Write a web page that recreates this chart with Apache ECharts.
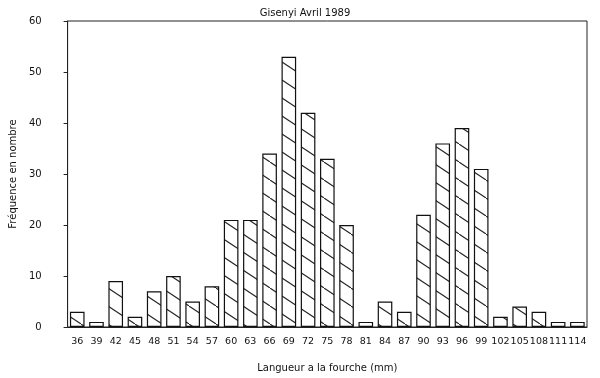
<!DOCTYPE html>
<html><head><meta charset="utf-8">
<script src="https://cdn.jsdelivr.net/npm/echarts@6/dist/echarts.min.js"></script>
<style>html,body{margin:0;padding:0;background:#fff}#c{width:600px;height:378px}</style>
</head><body><div id="c"></div>
<script>
const categories = ['36','39','42','45','48','51','54','57','60','63','66','69','72','75','78','81','84','87','90','93','96','99','102','105','108','111','114'];
const frequencies = [3,1,9,2,7,10,5,8,21,21,34,53,42,33,20,1,5,3,22,36,39,31,2,4,3,1,1];
const yTicks = [0,10,20,30,40,50,60];

function hatch(){
  const W=27,H=18;
  const c=document.createElement('canvas');c.width=W;c.height=H;
  const g=c.getContext('2d');
  g.fillStyle='#fff';g.fillRect(0,0,W,H);
  g.strokeStyle='#222';g.lineWidth=1.1;
  for(const o of [-1,0,1]){g.beginPath();g.moveTo(o*W,o*H);g.lineTo((o+1)*W,(o+1)*H);g.stroke();}
  return c;
}
const chart = echarts.init(document.getElementById('c'), null, {renderer:'canvas'});
const font = 'DejaVu Sans';
chart.setOption({
  backgroundColor:'#fff',
  animation:false,
  title:{text:'Gisenyi Avril 1989',left:300,top:3,textAlign:'center',textStyle:{fontFamily:font,fontSize:10,fontWeight:'normal',color:'#111'}},
  grid:{left:64,right:13,top:21,bottom:48.5,show:true,borderColor:'#222',borderWidth:1},
  xAxis:{type:'category',data:categories,
    name:'Langueur a la fourche (mm)',nameLocation:'middle',nameGap:36,
    nameTextStyle:{fontFamily:font,fontSize:10,color:'#111'},
    axisLine:{lineStyle:{color:'#222'}},
    axisTick:{alignWithLabel:true,length:4,lineStyle:{color:'#222'}},
    axisLabel:{interval:0,fontFamily:font,fontSize:9.5,color:'#111',margin:10}},
  yAxis:{type:'value',min:0,max:60,interval:10,
    name:'Fréquence en nombre',nameLocation:'middle',nameGap:46,
    nameTextStyle:{fontFamily:font,fontSize:10,color:'#111'},
    axisLine:{show:true,lineStyle:{color:'#222'}},
    axisTick:{show:true,length:4,lineStyle:{color:'#222'}},
    splitLine:{show:false},
    axisLabel:{fontFamily:font,fontSize:10,color:'#111',margin:26,align:'right',
      formatter:v=>yTicks.includes(v)?String(v):''}},
  series:[{type:'bar',data:frequencies,barCategoryGap:'24%',
    itemStyle:{color:{image:hatch(),repeat:'repeat'},borderColor:'#111',borderWidth:1.2}}]
});
</script></body></html>
